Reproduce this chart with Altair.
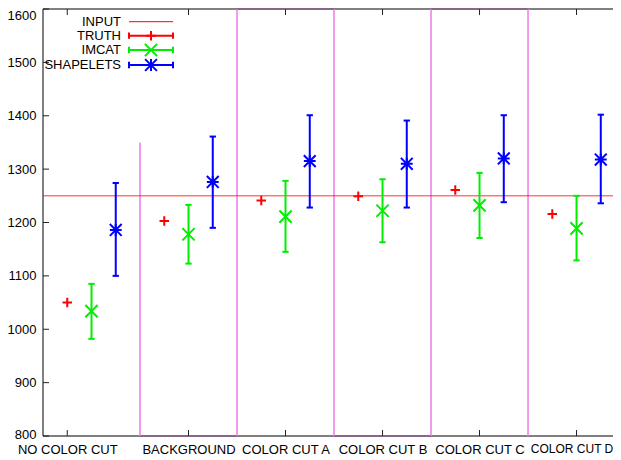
import altair as alt
import pandas as pd

# ---------------- data ----------------
categories = ["NO COLOR CUT", "BACKGROUND", "COLOR CUT A", "COLOR CUT B", "COLOR CUT C", "COLOR CUT D"]
tick_positions = [-0.25, 1, 2, 3, 4, 5]
group_centers = [0, 1, 2, 3, 4, 5]

input_value = [1250]
truth = [1050, 1203, 1241, 1249, 1261, 1216]
imcat = [1034, 1178, 1211, 1222, 1232, 1189]
imcat_lo = [982, 1123, 1145, 1163, 1171, 1129]
imcat_hi = [1085, 1233, 1278, 1281, 1293, 1250]
shapelets = [1186, 1276, 1315, 1310, 1320, 1318]
shapelets_lo = [1100, 1190, 1228, 1228, 1238, 1236]
shapelets_hi = [1274, 1361, 1401, 1391, 1401, 1402]

separators_x = [0.5, 1.5, 2.5, 3.5, 4.5]
separators_top = [1350, 1600, 1600, 1600, 1600]
seg_x1 = [0.5, 2.5, 1.5, 3.5]
seg_x2 = [1.5, 3.5, 2.5, 4.5]
seg_y = [800, 800, 1600, 1600]

y_ticks = [800, 900, 1000, 1100, 1200, 1300, 1400, 1500, 1600]

legend_labels = ["INPUT", "TRUTH", "IMCAT", "SHAPELETS"]

# ---------------- styling ----------------
FONT = "Liberation Sans"
W, H = 570, 427
RED, GREEN, BLUE, VIOLET = "#ff0000", "#00ee00", "#0000ff", "#ee82ee"
PLUS = "M-1,0L1,0M0,-1L0,1"
CROSS = "M-1,-1L1,1M-1,1L1,-1"
STAR = "M-1,0L1,0M0,-1L0,1M-1,-1L1,1M-1,1L1,-1"
HCAP = "M-1,0L1,0"
VCAP = "M0,-1L0,1"

x_scale = alt.Scale(domain=[-0.5, 5.376], nice=False, zero=False)
y_scale = alt.Scale(domain=[800, 1600], nice=False, zero=False)

label_expr = " : ".join(
    f"datum.value == {p} ? '{c}'" for p, c in zip(tick_positions, categories)
) + " : ''"
last_test = f"datum.value == {tick_positions[-1]}"
top_test = f"datum.value == {y_ticks[-1]}"
bottom_test = f"datum.value == {y_ticks[0]}"

x_axis = alt.Axis(values=tick_positions, labelExpr=label_expr, ticks=False, domain=False,
                  grid=False, labelPadding=7, labelFlush=False, labelOverlap=False,
                  labelColor="black", labelFont=FONT,
                  labelFontSize={"condition": {"test": last_test, "value": 12}, "value": 13},
                  labelOffset={"condition": {"test": last_test, "value": -5}, "value": 0})
y_axis = alt.Axis(values=y_ticks, format="d", ticks=False, domain=False, grid=False,
                  labelPadding=7, labelFontSize=13, labelColor="black", labelFont=FONT,
                  labelFlush=False, labelOverlap=False,
                  labelOffset={"condition": [{"test": top_test, "value": 6},
                                             {"test": bottom_test, "value": -2}], "value": 0})


def X(f):
    return alt.X(f"{f}:Q", scale=x_scale, axis=x_axis, title=None)


def Y(f):
    return alt.Y(f"{f}:Q", scale=y_scale, axis=y_axis, title=None)


def xs(off):
    return [c + off for c in group_centers]


truth_df = pd.DataFrame({"x": xs(-0.25), "v": truth})
imcat_df = pd.DataFrame({"x": xs(0.0), "v": imcat, "lo": imcat_lo, "hi": imcat_hi})
shp_df = pd.DataFrame({"x": xs(0.25), "v": shapelets, "lo": shapelets_lo, "hi": shapelets_hi})
sep_df = pd.DataFrame({"x": separators_x, "y0": [800] * len(separators_x), "y1": separators_top})
seg_df = pd.DataFrame({"x1": seg_x1, "x2": seg_x2, "y": seg_y})
inp_df = pd.DataFrame({"y": input_value})
yt_df = pd.DataFrame({"y": y_ticks})
xt_df = pd.DataFrame({"x": tick_positions})
one = pd.DataFrame({"k": [0]})

layers = []

# frame (left, top, bottom; the right border lies beyond the visible page)
layers.append(alt.Chart(one).mark_rule(color="black", strokeWidth=1).encode(
    x=alt.value(0), y=alt.value(0), y2=alt.value(H)))
layers.append(alt.Chart(one).mark_rule(color="black", strokeWidth=1).encode(
    x=alt.value(0), x2=alt.value(W), y=alt.value(0)))
layers.append(alt.Chart(one).mark_rule(color="black", strokeWidth=1).encode(
    x=alt.value(0), x2=alt.value(W), y=alt.value(H)))

# inward ticks (gnuplot style)
layers.append(alt.Chart(yt_df).mark_rule(color="#222", strokeWidth=1).encode(
    y=Y("y"), x=alt.value(0), x2=alt.value(6)))
layers.append(alt.Chart(xt_df).mark_rule(color="#222", strokeWidth=1).encode(
    x=X("x"), y=alt.value(H - 6), y2=alt.value(H)))
layers.append(alt.Chart(xt_df).mark_rule(color="#222", strokeWidth=1).encode(
    x=X("x"), y=alt.value(0), y2=alt.value(6)))

# separators
layers.append(alt.Chart(sep_df).mark_rule(color=VIOLET, strokeWidth=1.6).encode(
    x=X("x"), y=Y("y0"), y2="y1"))
layers.append(alt.Chart(seg_df).mark_rule(color="#9a3a9a", strokeWidth=1.2, opacity=0.7).encode(
    x=X("x1"), x2="x2", y=Y("y")))

# input line
layers.append(alt.Chart(inp_df).mark_rule(color=RED, strokeWidth=1, opacity=0.8).encode(
    y=Y("y"), x=alt.value(0), x2=alt.value(W)))

# truth
layers.append(alt.Chart(truth_df).mark_point(shape=PLUS, size=90, filled=False, color=RED,
                                             strokeWidth=2, opacity=1).encode(x=X("x"), y=Y("v")))


def errorbar_layers(df, color, shape, size):
    out = []
    out.append(alt.Chart(df).mark_rule(color=color, strokeWidth=2).encode(
        x=X("x"), y=Y("lo"), y2="hi"))
    for f in ["lo", "hi"]:
        out.append(alt.Chart(df).mark_point(shape=HCAP, size=40, filled=False, color=color,
                                            strokeWidth=2, opacity=1).encode(x=X("x"), y=Y(f)))
    out.append(alt.Chart(df).mark_point(shape=shape, size=size, filled=False, color=color,
                                        strokeWidth=2, opacity=1).encode(x=X("x"), y=Y("v")))
    return out


layers += errorbar_layers(imcat_df, GREEN, CROSS, 150)
layers += errorbar_layers(shp_df, BLUE, STAR, 140)

# ---------------- legend (pixel positions) ----------------
leg_y = [12.7, 26.7, 41.0, 56.0]
leg_df = pd.DataFrame({
    "label": legend_labels,
    "color": [RED, RED, GREEN, BLUE],
    "ty": leg_y,
    "tx": [78] * 4,
    "x1": [86] * 4,
    "x2": [130] * 4,
    "xm": [108] * 4,
    "sw": [1, 2, 2, 2],
    "shape": ["M0,0", PLUS, CROSS, STAR],
    "size": [1, 90, 150, 140],
})
err_leg = leg_df[leg_df["label"] != "INPUT"]

PX = lambda f: alt.X(f"{f}:Q", scale=None, title=None)
PY = lambda f: alt.Y(f"{f}:Q", scale=None, title=None)

layers.append(alt.Chart(leg_df).mark_text(align="right", baseline="middle", fontSize=13,
                                          font=FONT, color="black").encode(
    x=PX("tx"), y=PY("ty"), text="label:N"))
layers.append(alt.Chart(leg_df).mark_rule().encode(
    x=PX("x1"), x2="x2", y=PY("ty"),
    color=alt.Color("color:N", scale=None),
    strokeWidth=alt.StrokeWidth("sw:Q", scale=None)))
for f in ["x1", "x2"]:
    layers.append(alt.Chart(err_leg).mark_point(shape=VCAP, size=40, filled=False,
                                                strokeWidth=2, opacity=1).encode(
        x=PX(f), y=PY("ty"), color=alt.Color("color:N", scale=None)))
layers.append(alt.Chart(err_leg).mark_point(filled=False, strokeWidth=2, opacity=1).encode(
    x=PX("xm"), y=PY("ty"),
    color=alt.Color("color:N", scale=None),
    shape=alt.Shape("shape:N", scale=None),
    size=alt.Size("size:Q", scale=None)))

chart = alt.layer(*layers).properties(
    width=W, height=H,
    autosize=alt.AutoSizeParams(type="none"),
    padding={"left": 35, "top": 1, "right": 0, "bottom": 20},
    background="white",
).configure_view(stroke=None).configure_text(font=FONT)

chart.save("out.html", embed_options={"renderer": "svg", "actions": False})
